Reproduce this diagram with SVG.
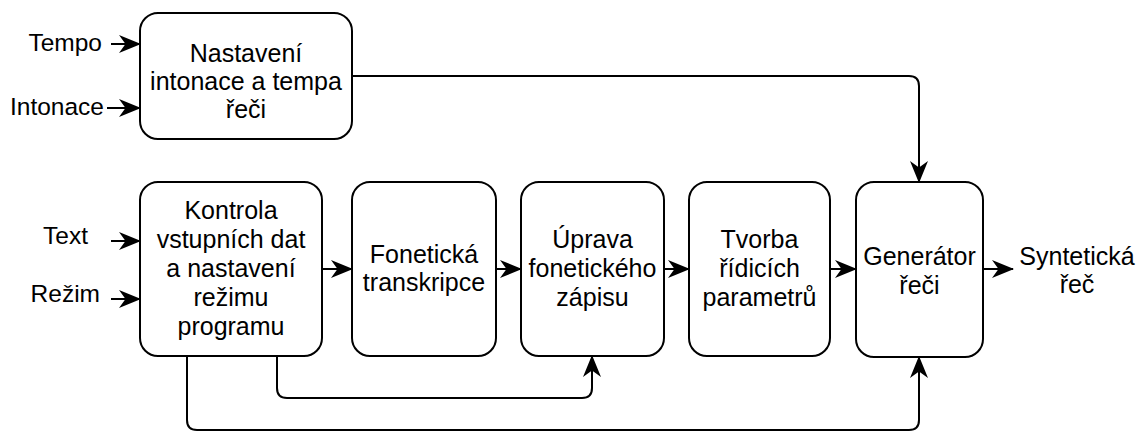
<svg xmlns="http://www.w3.org/2000/svg" width="1138" height="432" viewBox="0 0 1138 432">
<style>
.box{fill:#ffffff;stroke:#000000;stroke-width:2}
.t{font-family:"Liberation Sans",Arial,sans-serif;font-size:25px;fill:#000000;text-anchor:middle}
.l{font-family:"Liberation Sans",Arial,sans-serif;font-size:24.5px;fill:#000000;text-anchor:end}
.c{fill:none;stroke:#000000;stroke-width:2}
</style>
<defs>
<marker id="ah" markerUnits="userSpaceOnUse" viewBox="0 0 22 18" markerWidth="22" markerHeight="18" refX="21" refY="9" orient="auto">
<path d="M0,0 L22,9 L0,18 L6.5,9 Z" fill="#000000"/>
</marker>
</defs>
<rect width="1138" height="432" fill="#ffffff"/>
<g id="connectors">
<line class="c" x1="111" y1="44" x2="140" y2="44" marker-end="url(#ah)"/>
<line class="c" x1="107" y1="108" x2="140" y2="108" marker-end="url(#ah)"/>
<line class="c" x1="111" y1="241" x2="140" y2="241" marker-end="url(#ah)"/>
<line class="c" x1="111" y1="299" x2="140" y2="299" marker-end="url(#ah)"/>
<line class="c" x1="322" y1="269" x2="352" y2="269" marker-end="url(#ah)"/>
<line class="c" x1="496" y1="269" x2="521" y2="269" marker-end="url(#ah)"/>
<line class="c" x1="664" y1="269" x2="689" y2="269" marker-end="url(#ah)"/>
<line class="c" x1="830" y1="269" x2="856" y2="269" marker-end="url(#ah)"/>
<line class="c" x1="983" y1="269" x2="1013" y2="269" marker-end="url(#ah)"/>
<path class="c" d="M352,76 L909,76 Q919,76 919,86 L919,182" marker-end="url(#ah)"/>
<path class="c" d="M187,356 L187,420 Q187,430 197,430 L909,430 Q919,430 919,420 L919,357" marker-end="url(#ah)"/>
<path class="c" d="M277,356 L277,388 Q277,398 287,398 L582,398 Q592,398 592,388 L592,356" marker-end="url(#ah)"/>
</g>
<g id="labels">
<text class="l" x="102" y="51">Tempo</text>
<text class="l" x="104" y="115">Intonace</text>
<text class="l" x="88" y="244">Text</text>
<text class="l" x="100" y="302">Režim</text>
<text class="t" x="1077" y="265">Syntetická</text>
<text class="t" x="1077" y="293">řeč</text>
</g>
<g id="n-nastaveni">
<rect class="box" x="140" y="13" width="212" height="126" rx="18"/>
<text class="t" x="246" y="62">Nastavení</text>
<text class="t" x="246" y="90">intonace a tempa</text>
<text class="t" x="246" y="118">řeči</text>
</g>
<g id="n-kontrola">
<rect class="box" x="140" y="182" width="182" height="174" rx="18"/>
<text class="t" x="231" y="219">Kontrola</text>
<text class="t" x="231" y="248">vstupních dat</text>
<text class="t" x="231" y="277">a nastavení</text>
<text class="t" x="231" y="306">režimu</text>
<text class="t" x="231" y="335">programu</text>
</g>
<g id="n-fonet">
<rect class="box" x="352" y="182" width="144" height="174" rx="18"/>
<text class="t" x="424" y="263">Fonetická</text>
<text class="t" x="424" y="291">transkripce</text>
</g>
<g id="n-uprava">
<rect class="box" x="521" y="182" width="143" height="174" rx="18"/>
<text class="t" x="592.5" y="248">Úprava</text>
<text class="t" x="592.5" y="277">fonetického</text>
<text class="t" x="592.5" y="306">zápisu</text>
</g>
<g id="n-tvorba">
<rect class="box" x="689" y="182" width="141" height="174" rx="18"/>
<text class="t" x="759.5" y="248">Tvorba</text>
<text class="t" x="759.5" y="277">řídicích</text>
<text class="t" x="759.5" y="306">parametrů</text>
</g>
<g id="n-generator">
<rect class="box" x="856" y="182" width="127" height="175" rx="18"/>
<text class="t" x="919.5" y="265">Generátor</text>
<text class="t" x="919.5" y="294">řeči</text>
</g>
</svg>
